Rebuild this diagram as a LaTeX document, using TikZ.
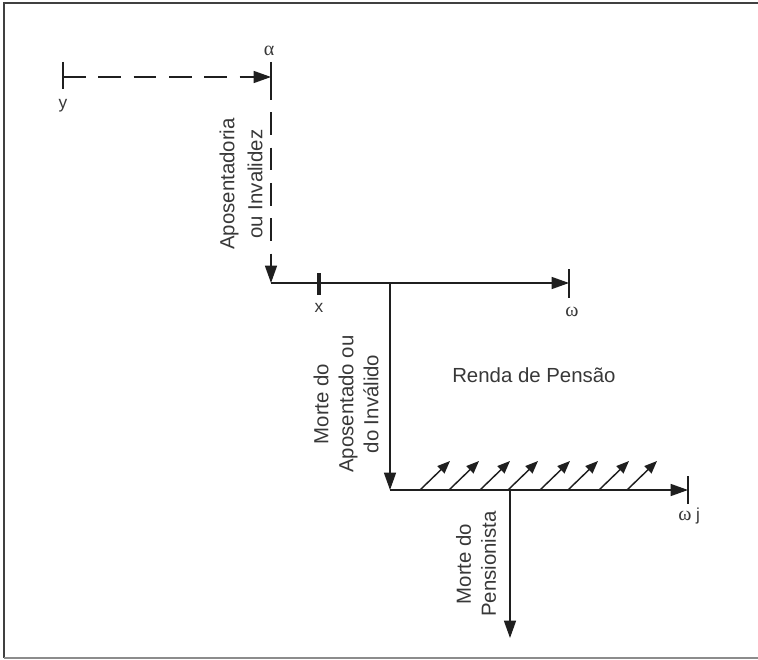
\documentclass[tikz,border=0pt]{standalone}
\usepackage{fontspec}
\setmainfont{Liberation Sans}
\newfontfamily\grk{Liberation Serif}
\usetikzlibrary{arrows.meta}
\begin{document}
\begin{tikzpicture}[x=0.75pt,y=-0.75pt,
  ln/.style={draw=black!88,line width=1.1pt},
  tickln/.style={draw=black!88,line width=1.1pt},
  bigarr/.style={-{Triangle[length=13pt,width=9pt]}},
  smallarr/.style={-{Triangle[length=9.5pt,width=7.5pt]}},
  dsh/.style={dash pattern=on 17pt off 9.5pt},
  lbl/.style={text=black!78,font=\fontsize{15.3}{18.75}\selectfont,align=center,inner sep=0pt},
  sm/.style={text=black!78,font=\fontsize{13}{15}\selectfont,inner sep=0pt},
  gk/.style={text=black!78,font=\grk\fontsize{15}{15}\selectfont,inner sep=0pt}]
\useasboundingbox (0,0) rectangle (758,660);
% frame
\draw[black!75,line width=1.2pt] (760,3) -- (4,3) -- (4,658);
\draw[black!45,line width=1.2pt] (4,658) -- (760,658);
% coordinates
\coordinate (y) at (63,77);
\coordinate (al) at (271,77);
\coordinate (c1) at (271,283);
\coordinate (b1) at (390,283);
\coordinate (om) at (569,283);
\coordinate (c2) at (390,490);
\coordinate (b2) at (510,490);
\coordinate (omj) at (688,490);
\coordinate (end) at (510,638);
% ticks
\draw[tickln] (63,62) -- (63,89);
\draw[tickln] (271,62) -- (271,92);
\draw[draw=black!88,line width=3pt] (319,273) -- (319,295);
\draw[tickln] (569,269) -- (569,298);
\draw[tickln] (688,476) -- (688,504);
% dashed path
\draw[ln,dsh,bigarr] (y) -- (al);
\draw[ln,dsh,bigarr] (al) -- (c1);
% solid lines
\draw[ln,bigarr] (c1) -- (om);
\draw[ln,bigarr] (b1) -- (c2);
\draw[ln,bigarr] (c2) -- (omj);
\draw[ln,bigarr] (b2) -- (end);
% small diagonal arrows
\foreach \sx in {420,449,480,508,540,568,599,627}
  \draw[ln,smallarr] (\sx,490) -- ++(30,-29);
% labels
\node[gk] (alab) at (269,51) {α};
\node[sm,anchor=base] (ylab) at (63,109) {y};
\node[sm,anchor=base] (xlab) at (319,312) {x};
\node[gk] (olab) at (572,312) {ω};
\node[gk] (ojlab) at (685,516) {ω};
\node[sm,anchor=base] (jlab) at (698,520) {j};
\node[lbl,anchor=base west] (ren) at (452,382) {Renda de Pensão};
\node[lbl,rotate=90,font=\fontsize{15.3}{21}\selectfont] (apo) at (241,184) {Aposentadoria\\ou Invalidez};
\node[lbl,rotate=90] (mor) at (346,404) {Morte do\\Aposentado ou\\do Inválido};
\node[lbl,rotate=90] (pen) at (476,564) {Morte do\\Pensionista};
\end{tikzpicture}
\end{document}
